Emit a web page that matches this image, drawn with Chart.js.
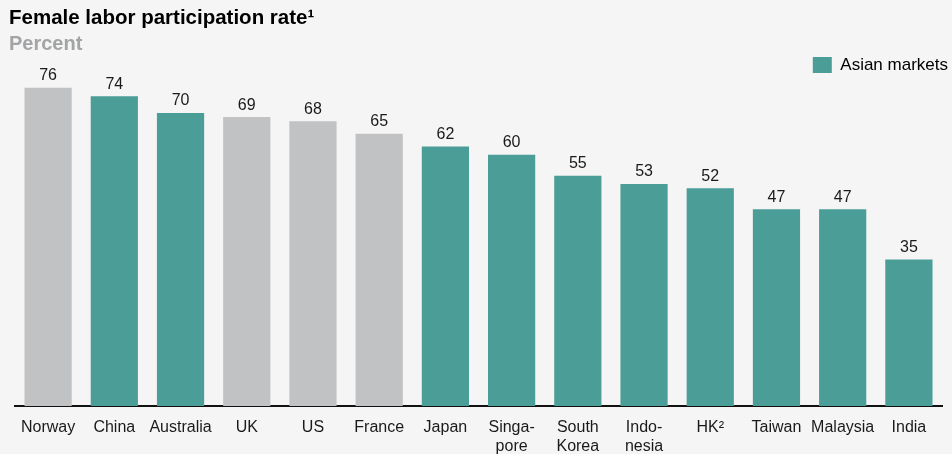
<!DOCTYPE html>
<html>
<head>
<meta charset="utf-8">
<script src="https://cdn.jsdelivr.net/npm/chart.js@4"></script>
<style>
  html, body { margin: 0; padding: 0; background: #f4f5f4; }
  #chart { display: block; }
</style>
</head>
<body>
<canvas id="chart" width="952" height="454"></canvas>
<script>
const categories = [
  'Norway', 'China', 'Australia', 'UK', 'US', 'France', 'Japan',
  ['Singa-', 'pore'], ['South', 'Korea'], ['Indo-', 'nesia'],
  'HK\u00B2', 'Taiwan', 'Malaysia', 'India'
];
const rates = [76, 74, 70, 69, 68, 65, 62, 60, 55, 53, 52, 47, 47, 35];
const isAsian = [false, true, true, false, false, false, true, true, true, true, true, true, true, true];

const TEAL = '#4b9d98';
const GREY = '#c1c2c3';
const FONT = "'Liberation Sans', Arial, sans-serif";

// draws the value above each bar
const valueLabels = {
  id: 'valueLabels',
  afterDatasetsDraw(chart) {
    const ctx = chart.ctx;
    const meta = chart.getDatasetMeta(0);
    ctx.save();
    ctx.font = '16px ' + FONT;
    ctx.fillStyle = '#1a1a1a';
    ctx.textAlign = 'center';
    ctx.textBaseline = 'bottom';
    meta.data.forEach((bar, i) => {
      ctx.fillText(String(rates[i]), bar.x, bar.y - 4);
    });
    ctx.restore();
  },
};

function fixedWidth(w) {
  return function (scale) {
    scale.width = w;
  };
}

new Chart(document.getElementById('chart'), {
  type: 'bar',
  data: {
    labels: categories,
    datasets: [
      {
        data: rates,
        backgroundColor: isAsian.map((a) => (a ? TEAL : GREY)),
        borderWidth: 0,
        barPercentage: 0.713,
        categoryPercentage: 1,
      },
    ],
  },
  options: {
    responsive: false,
    animation: false,
    layout: { padding: { left: 9, right: 4, top: 4, bottom: 0 } },
    plugins: {
      title: {
        display: true,
        text: 'Female labor participation rate\u00B9',
        align: 'start',
        color: '#000',
        font: { family: FONT, size: 20.5, weight: 'bold' },
        padding: { top: 2, bottom: 2 },
      },
      subtitle: {
        display: true,
        text: 'Percent',
        align: 'start',
        color: '#a3a4a5',
        font: { family: FONT, size: 20, weight: 'bold' },
        padding: { top: 0, bottom: 0 },
      },
      legend: {
        display: true,
        position: 'top',
        align: 'end',
        onClick: null,
        labels: {
          boxWidth: 19,
          boxHeight: 16,
          padding: 0,
          color: '#1a1a1a',
          font: { family: FONT, size: 17 },
          generateLabels: () => [
            {
              text: 'Asian markets',
              fillStyle: TEAL,
              strokeStyle: TEAL,
              lineWidth: 0,
              hidden: false,
              datasetIndex: 0,
            },
          ],
        },
      },
      tooltip: { enabled: false },
    },
    scales: {
      x: {
        grid: { display: false, drawTicks: false },
        border: { display: true, color: '#111', width: 2 },
        ticks: {
          color: '#1a1a1a',
          font: { family: FONT, size: 16, lineHeight: 1.2 },
          padding: 12,
          maxRotation: 0,
          autoSkip: false,
        },
        afterFit(scale) {
          scale.height = 48;
        },
      },
      y: {
        min: 0,
        max: 77,
        display: true,
        grid: { display: false },
        border: { display: false },
        ticks: { display: false },
        afterFit: fixedWidth(6),
      },
      yRight: {
        position: 'right',
        min: 0,
        max: 77,
        display: true,
        grid: { display: false },
        border: { display: false },
        ticks: { display: false },
        afterFit: fixedWidth(6),
      },
    },
  },
  plugins: [valueLabels],
});
</script>
</body>
</html>
